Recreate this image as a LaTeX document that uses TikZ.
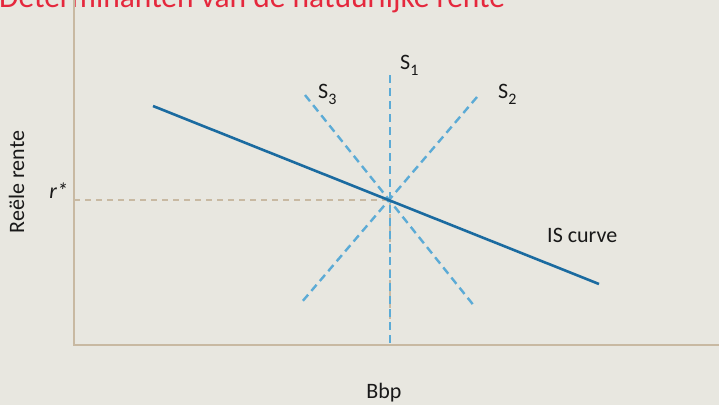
\documentclass[tikz,border=0pt]{standalone}
\usepackage{fontspec}
\setmainfont{Carlito}
\definecolor{bgcol}{HTML}{E8E7E0}
\definecolor{axiscol}{HTML}{C8B9A2}
\definecolor{titlecol}{HTML}{E5283D}
\definecolor{iscol}{HTML}{1B6BA0}
\definecolor{scol}{HTML}{5CABD6}
\newcommand{\subidx}[1]{\raisebox{-0.28em}{\fontsize{16}{16}\selectfont #1}}
\tikzset{
  axisline/.style={axiscol,line width=2.6pt},
  guideline/.style={axiscol,line width=1.2pt,dash pattern=on 6pt off 5pt},
  isline/.style={iscol,line width=2.6pt},
  sline/.style={scol,line width=2.4pt,dash pattern=on 8pt off 5pt},
  lbl/.style={inner sep=0pt,font=\fontsize{22}{24}\selectfont,text=black!90}
}
\begin{document}
\begin{tikzpicture}[x=1pt,y=-1pt]
  \fill[bgcol](0,0)rectangle(719,405);
  \useasboundingbox(0,0)rectangle(719,405);
  \clip(0,0)rectangle(719,405);
  \node[anchor=base west,inner sep=0pt,text=titlecol,font=\fontsize{31.5}{34}\selectfont](title) at (-1,7.5){Determinanten van de natuurlijke rente};
  \coordinate(top) at (74,0);
  \coordinate(origin) at (74,345);
  \coordinate(xend) at (719,345);
  \coordinate(eq) at (390,200);
  \coordinate(rstar) at (74,200);
  \coordinate(eqfoot) at (390,345);
  \draw[guideline](rstar)--(eq)--(eqfoot);
  \draw[axisline](top)--(origin)--(xend);
  % S curves
  \coordinate(s1a) at (390,75);   \coordinate(s1b) at (390,345);
  \coordinate(s2a) at (477,97);   \coordinate(s2b) at (301,303);
  \coordinate(s3a) at (305,95);   \coordinate(s3b) at (475,307);
  \foreach \s in {1,2,3}{
    \draw[sline](s\s a)--(s\s b);}
  \coordinate(isa) at (153,106);
  \coordinate(isb) at (599,284);
  \draw[isline](isa)--(isb);
  \node[lbl,anchor=base west](s1lbl) at (400,69){S\subidx{1}};
  \node[lbl,anchor=base west](s2lbl) at (498,98){S\subidx{2}};
  \node[lbl,anchor=base west](s3lbl) at (318,98){S\subidx{3}};
  \node[lbl,anchor=base west](islbl) at (547,242){IS curve};
  \node[lbl,anchor=base east](rlbl) at (68,198){\itshape r*};
  \node[lbl,anchor=base,rotate=90](ylbl) at (24,182){Reële rente};
  \node[lbl,anchor=base](xlbl) at (384,398){Bbp};
\end{tikzpicture}
\end{document}
